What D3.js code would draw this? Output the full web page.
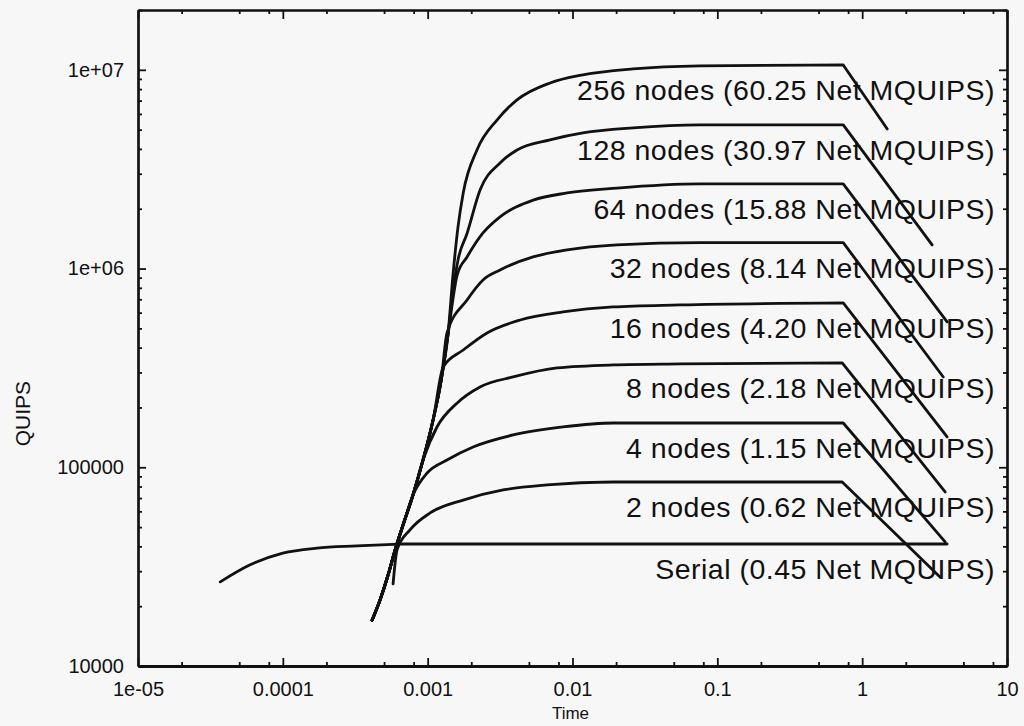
<!DOCTYPE html>
<html lang="en">

<head>
  <meta charset="UTF-8">
  <title>QUIPS vs Time</title>
  <style>
    body {
      margin: 0;
      background: #f7f7f7;
    }

    svg {
      font-family: "Liberation Sans", Arial, Helvetica, sans-serif;
    }

    .axis text {
      font-size: 20px;
      fill: #111;
    }

    .axis path,
    .axis line {
      stroke: #111;
    }
  </style>
</head>

<body>
  <div id="chart"></div>

  <script src="https://d3js.org/d3.v7.min.js"></script>
  <script>
    // tick values and the labels printed next to them
    const xTicks = [1e-5, 1e-4, 1e-3, 1e-2, 1e-1, 1, 10]
    const xTickLabels = ['1e-05', '0.0001', '0.001', '0.01', '0.1', '1', '10']
    const yTicks = [1e4, 1e5, 1e6, 1e7]
    const yTickLabels = ['10000', '100000', '1e+06', '1e+07']

    // series: [time, quips]
    const serial = [[3.7e-5, 26500], [5.9e-5, 32200], [1.0e-4, 37000], [1.72e-4, 39200],
      [3.25e-4, 40200], [6.45e-4, 41100], [3.86, 41100]]
    const nodes2 = [[5.77e-4, 25900], [6.15e-4, 38400], [7.55e-4, 48400], [1.04e-3, 58900],
      [1.76e-3, 68400], [3.32e-3, 76900], [6.68e-3, 81500], [1.91e-2, 84300], [0.728, 84300], [3.46, 28000]]
    const nodes4 = [[4.13e-4, 17000], [4.69e-4, 21500], [5.33e-4, 28700], [5.96e-4, 38400], [6.76e-4, 51200],
      [7.92e-4, 72500], [9.91e-4, 93600], [1.36e-3, 108800], [2.06e-3, 126500], [3.89e-3, 145400],
      [8.61e-3, 159500], [1.91e-2, 167000], [0.74, 167000], [3.74, 42100]]
    const nodes8 = [[4.13e-4, 17000], [4.69e-4, 21500], [5.33e-4, 28700], [5.96e-4, 38400], [6.76e-4, 51200],
      [7.92e-4, 72500], [9.29e-4, 108800], [1.16e-3, 159500], [1.60e-3, 210700], [2.30e-3, 253600],
      [3.89e-3, 284700], [7.84e-3, 316100], [1.91e-2, 327300], [5.53e-2, 331100], [0.728, 334900], [3.74, 75100]]
    const nodes16 = [[4.13e-4, 17000], [4.69e-4, 21500], [5.33e-4, 28700], [5.96e-4, 38400], [6.76e-4, 51200],
      [7.92e-4, 72500], [9.29e-4, 108800], [1.09e-3, 173000], [1.28e-3, 319800], [1.76e-3, 389100],
      [2.57e-3, 474200], [4.35e-3, 550900], [8.61e-3, 604800], [1.91e-2, 640900], [5.53e-2, 655900],
      [0.74, 671300], [3.86, 142100]]
    const nodes32 = [[4.13e-4, 17000], [4.69e-4, 21500], [5.33e-4, 28700], [5.96e-4, 38400], [6.76e-4, 51200],
      [7.92e-4, 72500], [9.29e-4, 108800], [1.09e-3, 173000], [1.24e-3, 275000], [1.36e-3, 474200],
      [1.87e-3, 695000], [2.41e-3, 876000], [3.16e-3, 984000], [5.35e-3, 1.144e6], [9.18e-3, 1.241e6],
      [2.03e-2, 1.315e6], [7.6e-2, 1.35e6], [0.74, 1.35e6], [3.63, 284700]]
    const nodes64 = [[4.13e-4, 17000], [4.69e-4, 21500], [5.33e-4, 28700], [5.96e-4, 38400], [6.76e-4, 51200],
      [7.92e-4, 72500], [9.29e-4, 108800], [1.09e-3, 173000], [1.24e-3, 275000], [1.38e-3, 463000],
      [1.60e-3, 929000], [1.87e-3, 1.144e6], [2.41e-3, 1.51e6], [3.16e-3, 1.82e6], [5.35e-3, 2.21e6],
      [9.18e-3, 2.40e6], [2.03e-2, 2.54e6], [7.6e-2, 2.666e6], [0.74, 2.666e6], [3.86, 538600]]
    const nodes128 = [[4.13e-4, 17000], [4.69e-4, 21500], [5.33e-4, 28700], [5.96e-4, 38400], [6.76e-4, 51200],
      [7.92e-4, 72500], [9.29e-4, 108800], [1.09e-3, 173000], [1.24e-3, 275000], [1.38e-3, 463000],
      [1.50e-3, 780000], [1.62e-3, 1.105e6], [1.87e-3, 1.50e6], [2.30e-3, 2.486e6], [3.16e-3, 3.40e6],
      [4.14e-3, 3.95e6], [7.0e-3, 4.44e6], [1.18e-2, 4.81e6], [2.62e-2, 5.10e6],
      [7.6e-2, 5.28e6], [0.74, 5.28e6], [3.04, 1.315e6]]
    const nodes256 = [[4.13e-4, 17000], [4.69e-4, 21500], [5.33e-4, 28700], [5.96e-4, 38400], [6.76e-4, 51200],
      [7.92e-4, 72500], [9.29e-4, 108800], [1.09e-3, 173000], [1.24e-3, 275000], [1.38e-3, 463000],
      [1.50e-3, 950600], [1.62e-3, 1.62e6], [1.76e-3, 2.40e6], [2.19e-3, 3.95e6], [3.01e-3, 5.59e6],
      [4.14e-3, 7.06e6], [7.0e-3, 8.59e6], [1.18e-2, 9.43e6], [2.62e-2, 1.01e7], [7.6e-2, 1.046e7],
      [0.74, 1.058e7], [1.49, 5.04e6]]

    const seriesList = [nodes256, nodes128, nodes64, nodes32, nodes16, nodes8, nodes4, nodes2, serial]
    const seriesLabels = [
      '256 nodes (60.25 Net MQUIPS)',
      '128 nodes (30.97 Net MQUIPS)',
      '64 nodes (15.88 Net MQUIPS)',
      '32 nodes (8.14 Net MQUIPS)',
      '16 nodes (4.20 Net MQUIPS)',
      '8 nodes (2.18 Net MQUIPS)',
      '4 nodes (1.15 Net MQUIPS)',
      '2 nodes (0.62 Net MQUIPS)',
      'Serial (0.45 Net MQUIPS)'
    ]

    const width = 1024
    const height = 726
    const margin = { top: 10, right: 17, bottom: 60, left: 138 }
    const innerW = width - margin.left - margin.right
    const innerH = height - margin.top - margin.bottom

    const svg = d3.select('#chart').append('svg')
      .attr('width', width)
      .attr('height', height)

    svg.append('rect')
      .attr('width', width)
      .attr('height', height)
      .attr('fill', '#f7f7f7')

    const g = svg.append('g')
      .attr('transform', `translate(${margin.left}, ${margin.top})`)

    const x = d3.scaleLog().domain([1e-5, 10]).range([0, innerW])
    const y = d3.scaleLog().domain([1e4, 2e7]).range([innerH, 0])

    // minor ticks: x at 2,5,8 per decade, y at 2..9
    const xMinor = []
    const yMinor = []
    for (let p = -5; p < 1; p++) {
      [2, 5, 8].forEach(m => xMinor.push(m * Math.pow(10, p)))
    }
    for (let p = 4; p < 8; p++) {
      for (let m = 2; m <= 9; m++) {
        const v = m * Math.pow(10, p)
        if (v <= 2e7) yMinor.push(v)
      }
    }

    function addAxis(axisFn, scale, values, size, transform, labels) {
      const a = axisFn(scale)
        .tickValues(values)
        .tickSizeInner(size)
        .tickSizeOuter(0)
        .tickPadding(labels ? 12 : 0)
        .tickFormat(labels ? (d, i) => labels[i] : '')
      const ag = g.append('g')
        .attr('class', 'axis')
        .attr('transform', transform)
        .call(a)
      ag.select('.domain').attr('stroke-width', 2.2)
      ag.selectAll('.tick line').attr('stroke-width', 1.8)
      return ag
    }

    // bottom & left with labels, ticks pointing inward
    addAxis(d3.axisBottom, x, xMinor, -4, `translate(0, ${innerH})`)
    const xa = addAxis(d3.axisBottom, x, xTicks, -8, `translate(0, ${innerH})`, xTickLabels)
    xa.select('.domain').attr('stroke-width', 3)
    xa.selectAll('text').attr('dy', '0.9em')

    addAxis(d3.axisLeft, y, yMinor, -4, 'translate(0, 0)')
    const ya = addAxis(d3.axisLeft, y, yTicks, -8, 'translate(0, 0)', yTickLabels)
    ya.selectAll('text').attr('dx', '-0.1em')

    // top & right mirror ticks
    addAxis(d3.axisTop, x, xMinor, -4, 'translate(0, 0)')
    addAxis(d3.axisTop, x, xTicks, -9, 'translate(0, 0)')
    addAxis(d3.axisRight, y, yMinor, -4, `translate(${innerW}, 0)`)
    addAxis(d3.axisRight, y, yTicks, -8, `translate(${innerW}, 0)`)

    // axis titles
    svg.append('text')
      .attr('x', margin.left + x(0.01) - 2)
      .attr('y', 719)
      .attr('text-anchor', 'middle')
      .attr('font-size', 17)
      .attr('fill', '#111')
      .text('Time')

    svg.append('text')
      .attr('transform', `translate(30, ${margin.top + y(1.8e5) - 3}) rotate(-90)`)
      .attr('text-anchor', 'middle')
      .attr('font-size', 21)
      .attr('fill', '#111')
      .text('QUIPS')

    // curves: smooth rise and plateau, straight drop after the last plateau point
    const smooth = d3.line()
      .x(d => x(d[0]))
      .y(d => y(d[1]))
      .curve(d3.curveMonotoneX)

    const curvePath = d => {
      const last = d[d.length - 1]
      return smooth(d.slice(0, -1)) + `L${x(last[0])},${y(last[1])}`
    }

    g.append('g')
      .selectAll('path')
      .data(seriesList)
      .enter()
      .append('path')
      .attr('d', curvePath)
      .attr('fill', 'none')
      .attr('stroke', '#111')
      .attr('stroke-width', 2.8)
      .attr('stroke-linejoin', 'round')
      .attr('stroke-linecap', 'round')

    // labels sit just under each plateau
    g.append('g')
      .selectAll('text')
      .data(seriesList)
      .enter()
      .append('text')
      .attr('x', innerW - 12)
      .attr('y', d => y(d[d.length - 2][1]) + 35)
      .attr('text-anchor', 'end')
      .attr('font-size', 28.5)
      .attr('letter-spacing', 0.5)
      .attr('fill', '#111')
      .text((d, i) => seriesLabels[i])
  </script>
</body>

</html>
